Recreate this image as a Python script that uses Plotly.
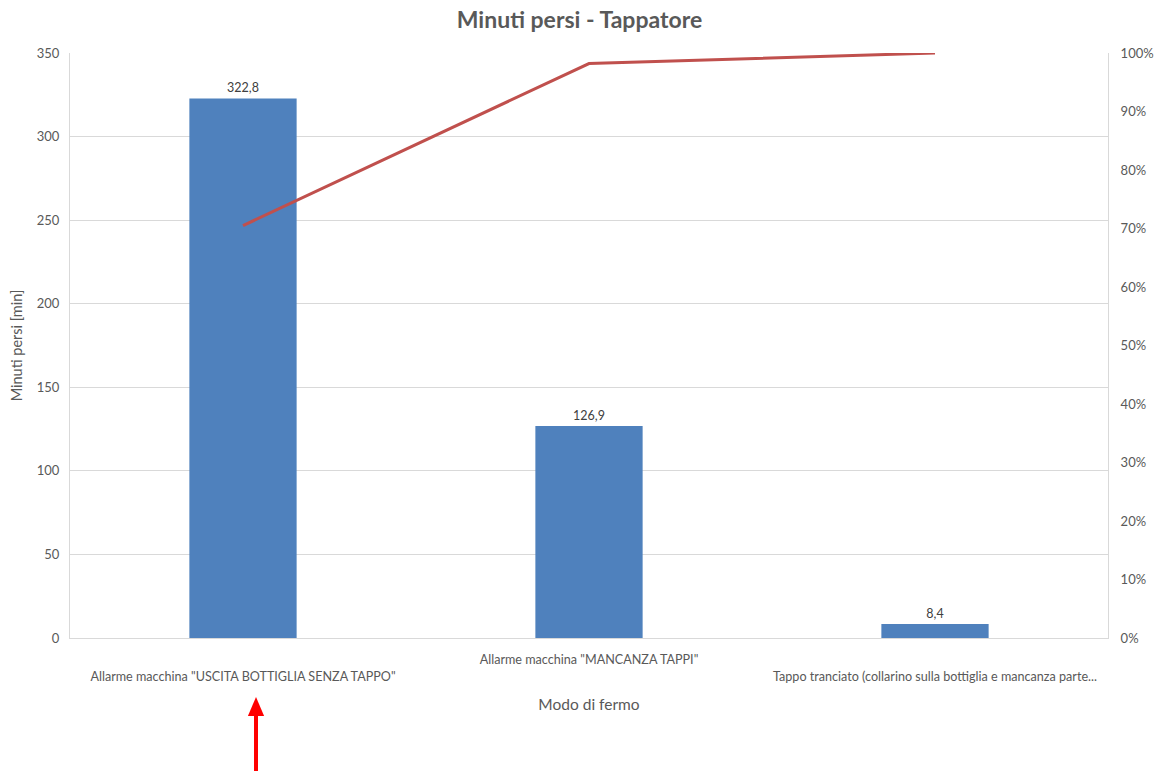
import plotly.graph_objects as go

# Stop causes for the capper and minutes lost
categories = [
    'Allarme macchina "USCITA BOTTIGLIA SENZA TAPPO"',
    'Allarme macchina "MANCANZA TAPPI"',
    'Tappo tranciato (collarino sulla bottiglia e mancanza parte...',
]
minutes_lost = [322.8, 126.9, 8.4]
# Cumulative share of lost minutes (Pareto line)
cumulative_share = [0.705, 0.982, 1.0]

# Staggered category labels (1st and 3rd on a lower row)
tick_text = ["<br>" + categories[0], categories[1], "<br>" + categories[2]]

FONT = "Lato"
TEXT = "#595959"
GRID = "#D9D9D9"

fig = go.Figure()

fig.add_trace(go.Bar(
    x=categories,
    y=minutes_lost,
    width=0.31,
    marker=dict(color="#4F81BD", line=dict(width=0)),
    texttemplate="%{y:.1f}",
    textposition="outside",
    textfont=dict(family=FONT, size=12.5, color="#404040"),
    cliponaxis=False,
    showlegend=False,
))

fig.add_trace(go.Scatter(
    x=categories,
    y=cumulative_share,
    yaxis="y2",
    mode="lines",
    line=dict(color="#C0504D", width=3),
    showlegend=False,
))

# Arrow pointing at the first cause
ax_x = 0.1792
fig.add_shape(type="line", xref="paper", yref="paper",
              x0=ax_x, x1=ax_x, y0=-0.235, y1=-0.128,
              line=dict(color="#FF0000", width=4))
fig.add_shape(type="path", xref="paper", yref="paper",
              path=f"M {ax_x - 0.0078} -0.1333 L {ax_x + 0.0078} -0.1333 L {ax_x} -0.1009 Z",
              fillcolor="#FF0000", line=dict(width=0))

fig.update_layout(
    width=1159,
    height=771,
    margin=dict(l=70, r=51, t=53, b=133, autoexpand=False),
    paper_bgcolor="white",
    plot_bgcolor="white",
    separators=",.",
    font=dict(family=FONT, size=13, color=TEXT),
    title=dict(
        text="<b>Minuti persi - Tappatore</b>",
        x=0.5, xanchor="center",
        y=0.974, yanchor="middle",
        font=dict(family=FONT, size=23, color=TEXT),
    ),
    bargap=0.69,
    xaxis=dict(
        tickmode="array",
        tickvals=categories,
        ticktext=tick_text,
        range=[-0.5, 2.5],
        automargin=False,
        showline=True,
        linecolor=GRID,
        linewidth=1,
        showgrid=False,
        ticks="",
        ticklabelstandoff=10,
        tickfont=dict(family=FONT, size=12.6, color=TEXT),
        title=dict(text="Modo di fermo", font=dict(family=FONT, size=15.5, color=TEXT), standoff=16),
    ),
    yaxis=dict(
        range=[0, 350],
        dtick=50,
        automargin=False,
        showgrid=True,
        gridcolor=GRID,
        gridwidth=1,
        zeroline=False,
        showline=True,
        linecolor=GRID,
        linewidth=1,
        ticks="",
        ticklabelstandoff=7,
        tickfont=dict(family=FONT, size=13, color=TEXT),
        title=dict(text="Minuti persi [min]", font=dict(family=FONT, size=14.5, color=TEXT), standoff=10),
    ),
    yaxis2=dict(
        range=[0, 1],
        dtick=0.1,
        tickformat=".0%",
        overlaying="y",
        side="right",
        automargin=False,
        showgrid=False,
        zeroline=False,
        showline=True,
        linecolor=GRID,
        linewidth=1,
        ticks="",
        ticklabelstandoff=9,
        tickfont=dict(family=FONT, size=13, color=TEXT),
    ),
)

fig.write_html("out.html")
